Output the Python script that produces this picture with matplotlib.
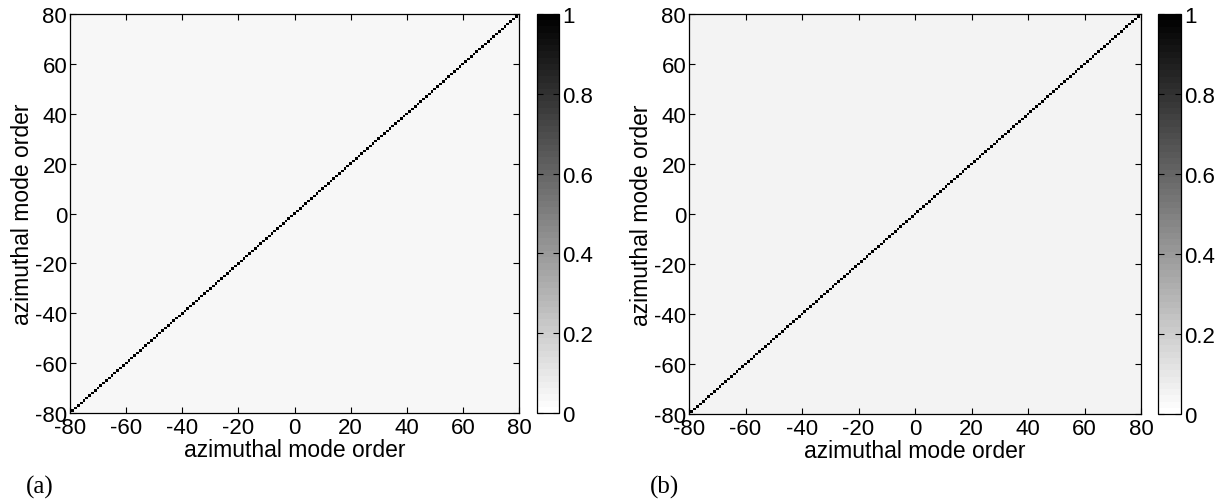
import numpy as np
import matplotlib
matplotlib.use("Agg")
import matplotlib.pyplot as plt
from matplotlib.colors import ListedColormap

plt.rcParams["font.family"] = ["Liberation Sans", "DejaVu Sans"]
plt.rcParams["axes.unicode_minus"] = False

# Azimuthal mode orders and correlation levels for the two cases
mode_orders = list(range(-80, 81))
diagonal_level_a = 1.0
diagonal_level_b = 1.0
crosstalk_level_a = 0.035  # faint off-diagonal coupling, case (a)
crosstalk_level_b = 0.05   # stronger off-diagonal coupling, case (b)
axis_ticks = [-80, -60, -40, -20, 0, 20, 40, 60, 80]
cbar_ticks = [0, 0.2, 0.4, 0.6, 0.8, 1]
cbar_ticklabels = ["0", "0.2", "0.4", "0.6", "0.8", "1"]
axis_label = "azimuthal mode order"
panel_labels = ["(a)", "(b)"]


def correlation_matrix(diag, offdiag):
    n = len(mode_orders)
    m = np.full((n, n), offdiag)
    m[np.arange(n), np.arange(n)] = diag
    return m


mats = [correlation_matrix(diagonal_level_a, crosstalk_level_a),
        correlation_matrix(diagonal_level_b, crosstalk_level_b)]

# 64-level inverted grey map
cmap = ListedColormap(plt.get_cmap("gray_r")(np.linspace(0, 1, 64)))

W, H = 1228, 502
fig = plt.figure(figsize=(W / 100, H / 100), dpi=100)


def frac(x0, y0, x1, y1):
    return [x0 / W, 1 - y1 / H, (x1 - x0) / W, (y1 - y0) / H]


ax_boxes = [frac(70, 15, 519, 414), frac(689, 15, 1141, 415)]
cb_boxes = [frac(537, 15, 559, 414), frac(1158, 15, 1181, 415)]
panel_pos = [(26, 487), (650, 487)]

lo, hi = mode_orders[0] - 0.5, mode_orders[-1] + 0.5
tick_fs = 16
label_fs = 16.5

for mat, abox, cbox, ppos, plab in zip(mats, ax_boxes, cb_boxes, panel_pos, panel_labels):
    ax = fig.add_axes(abox)
    im = ax.imshow(mat, cmap=cmap, vmin=0, vmax=1, origin="lower",
                   extent=[lo, hi, lo, hi], aspect="auto",
                   interpolation="nearest")
    ax.set_xlim(mode_orders[0], mode_orders[-1])
    ax.set_ylim(mode_orders[0], mode_orders[-1])
    ax.set_xticks(axis_ticks)
    ax.set_yticks(axis_ticks)
    ax.tick_params(direction="in", top=True, right=True, length=4,
                   width=0.8, labelsize=tick_fs, colors="black")
    ax.tick_params(axis="x", pad=3)
    ax.tick_params(axis="y", pad=2)
    ax.set_xlabel(axis_label, fontsize=label_fs, labelpad=0)
    ax.set_ylabel(axis_label, fontsize=label_fs, labelpad=1)
    for s in ax.spines.values():
        s.set_linewidth(0.9)

    cax = fig.add_axes(cbox)
    cb = fig.colorbar(im, cax=cax, ticks=cbar_ticks)
    cb.set_ticklabels(cbar_ticklabels)
    cax.tick_params(direction="in", left=True, right=True, length=4,
                    width=0.8, labelsize=tick_fs, pad=2)
    cb.outline.set_linewidth(0.9)

    fig.text(ppos[0] / W, 1 - ppos[1] / H, plab, fontsize=18,
             family=["Liberation Serif", "DejaVu Serif"], va="center", ha="left")

fig.savefig("out.png", dpi=100)
